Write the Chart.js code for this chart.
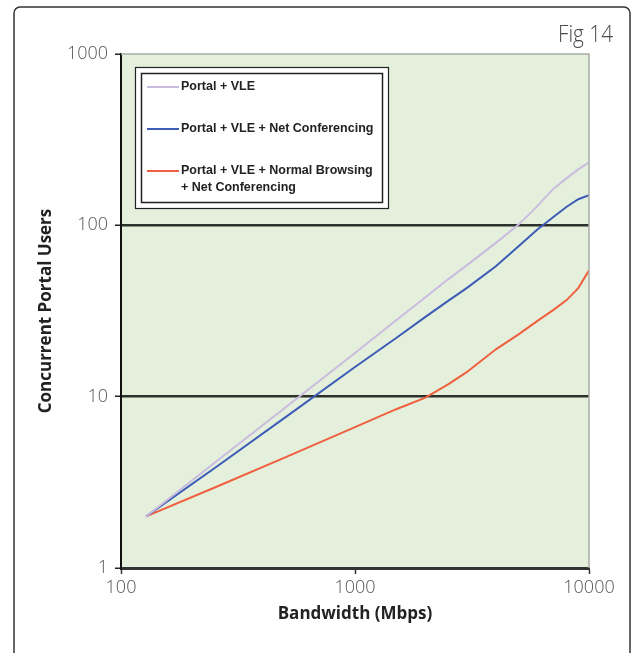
<!DOCTYPE html>
<html>
<head>
<meta charset="utf-8">
<script src="https://cdn.jsdelivr.net/npm/chart.js@4/dist/chart.umd.min.js"></script>
<style>
  html, body { margin: 0; padding: 0; background: #fff; }
  #wrap { width: 638px; height: 653px; }
</style>
</head>
<body>
<div id="wrap"><canvas id="fig14" width="638" height="653"></canvas></div>
<script>
// values (bandwidth in Mbps, users on a log scale)
const bandwidth = [128, 256, 512, 1000, 1500, 2000, 2500, 3000, 4000, 5000, 6000, 7000, 8000, 9000, 10000];
const portalVle = [2.0, 4.2, 8.8, 18.0, 27.9, 38.0, 48.4, 58.4, 79, 101, 129, 162, 188, 212, 233];
const portalVleConf = [2.0, 3.9, 7.7, 14.9, 22.0, 29.2, 36.2, 43.0, 57.7, 75.6, 94.3, 111, 128, 142, 150];
const portalVleBrowseConf = [2.0, 2.98, 4.47, 6.64, 8.45, 9.86, 11.8, 13.9, 18.9, 23.1, 27.6, 31.9, 36.5, 43.0, 54.7];

const seriesLabels = [
  ['Portal + VLE'],
  ['Portal + VLE + Net Conferencing'],
  ['Portal + VLE + Normal Browsing', '+ Net Conferencing']
];
const seriesColors = ['#c9bcdf', '#3c5cb6', '#f0603e'];

const xTicks = [100, 1000, 10000];
const yTicks = [1, 10, 100, 1000];

const toPoints = (ys) => bandwidth.map((x, i) => ({x: x, y: ys[i]}));

const tickFont = {family: "'Open Sans', sans-serif", size: 18, weight: '300'};
const titleFont = {family: "'Open Sans', sans-serif", size: 17, weight: 'bold'};

// background, frame, plot edges, legend box and the figure number
const decor = {
  id: 'decor',
  beforeDraw(chart) {
    const {ctx, chartArea: a} = chart;
    ctx.save();
    ctx.fillStyle = '#fff';
    ctx.fillRect(0, 0, chart.width, chart.height);
    ctx.fillStyle = '#e4efdc';
    ctx.fillRect(a.left, a.top, a.right - a.left, a.bottom - a.top);
    ctx.restore();
  },
  afterDraw(chart) {
    const {ctx, chartArea: a} = chart;
    ctx.save();

    // gray top/right edges of the plot
    ctx.strokeStyle = '#a8ada6';
    ctx.lineWidth = 1.5;
    ctx.beginPath();
    ctx.moveTo(a.left, a.top);
    ctx.lineTo(a.right, a.top);
    ctx.lineTo(a.right, a.bottom);
    ctx.stroke();

    // outer frame
    ctx.strokeStyle = '#333';
    ctx.lineWidth = 1.5;
    ctx.beginPath();
    ctx.moveTo(14, 670);
    ctx.lineTo(14, 13);
    ctx.arcTo(14, 7, 20, 7, 6);
    ctx.lineTo(624, 7);
    ctx.arcTo(630, 7, 630, 13, 6);
    ctx.lineTo(630, 670);
    ctx.stroke();

    // Fig 14
    ctx.fillStyle = '#4a4a4a';
    ctx.font = "300 23px 'Open Sans', sans-serif";
    ctx.textBaseline = 'alphabetic';
    const label = 'Fig 14';
    const w = ctx.measureText(label).width;
    const sx = Math.min(1, 55 / w);
    ctx.translate(613 - w * sx, 42);
    ctx.scale(sx, 1);
    ctx.textAlign = 'left';
    ctx.fillText(label, 0, 0);
    ctx.setTransform(1, 0, 0, 1, 0, 0);

    // legend with double border
    ctx.fillStyle = '#fff';
    ctx.fillRect(135, 67, 253, 142);
    ctx.strokeStyle = '#222';
    ctx.lineWidth = 1.2;
    ctx.strokeRect(135.5, 67.5, 253, 141);
    ctx.lineWidth = 1.5;
    ctx.strokeRect(141.5, 73.5, 241, 129);

    const rowY = [87, 129, 171];
    ctx.font = "bold 12.5px 'Liberation Sans', Arial, sans-serif";
    ctx.textBaseline = 'middle';
    ctx.textAlign = 'left';
    seriesLabels.forEach((lines, i) => {
      ctx.strokeStyle = seriesColors[i];
      ctx.lineWidth = 2;
      ctx.beginPath();
      ctx.moveTo(147, rowY[i]);
      ctx.lineTo(179, rowY[i]);
      ctx.stroke();
      ctx.fillStyle = '#222';
      lines.forEach((t, j) => ctx.fillText(t, 181, rowY[i] + j * 17));
    });

    ctx.restore();
  }
};

new Chart(document.getElementById('fig14'), {
  type: 'line',
  data: {
    datasets: [
      {label: seriesLabels[0].join(' '), data: toPoints(portalVle), borderColor: seriesColors[0]},
      {label: seriesLabels[1].join(' '), data: toPoints(portalVleConf), borderColor: seriesColors[1]},
      {label: seriesLabels[2].join(' '), data: toPoints(portalVleBrowseConf), borderColor: seriesColors[2]}
    ]
  },
  options: {
    responsive: false,
    animation: false,
    devicePixelRatio: 1,
    layout: {padding: {top: 54, right: 49, left: 0, bottom: 0}},
    elements: {
      line: {borderWidth: 2, tension: 0},
      point: {radius: 0}
    },
    plugins: {
      legend: {display: false},
      tooltip: {enabled: false}
    },
    scales: {
      x: {
        type: 'logarithmic',
        min: 100,
        max: 10000,
        afterFit: (s) => { s.height = 85; },
        afterBuildTicks: (s) => { s.ticks = xTicks.map(v => ({value: v})); },
        grid: {drawOnChartArea: false, tickLength: 6, tickColor: '#333', tickWidth: 1.5},
        border: {color: '#333', width: 3},
        ticks: {
          color: '#555',
          font: tickFont,
          padding: 3,
          autoSkip: false,
          maxRotation: 0,
          callback: (v) => String(v)
        },
        title: {
          display: true,
          text: 'Bandwidth (Mbps)',
          color: '#222',
          font: titleFont,
          padding: {top: 0, bottom: 29}
        }
      },
      y: {
        type: 'logarithmic',
        min: 1,
        max: 1000,
        afterFit: (s) => { s.width = 121; },
        afterBuildTicks: (s) => { s.ticks = yTicks.map(v => ({value: v})); },
        grid: {
          tickLength: 6,
          tickColor: '#222',
          tickWidth: 1.5,
          lineWidth: 2.5,
          color: (c) => (c.tick && (c.tick.value === 10 || c.tick.value === 100)) ? '#2c322b' : 'rgba(0,0,0,0)'
        },
        border: {color: '#111', width: 2},
        ticks: {
          color: '#555',
          font: tickFont,
          padding: 7,
          autoSkip: false,
          callback: (v) => String(v)
        },
        title: {
          display: true,
          text: 'Concurrent Portal Users',
          color: '#222',
          font: titleFont,
          padding: {top: 36, bottom: 0}
        }
      }
    }
  },
  plugins: [decor]
});
</script>
</body>
</html>
